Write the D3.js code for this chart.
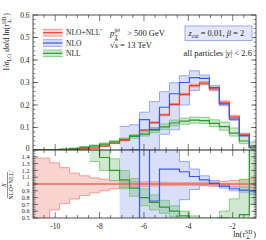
<!DOCTYPE html>
<html>
<head>
<meta charset="utf-8">
<script src="https://cdn.jsdelivr.net/npm/d3@7"></script>
<style>
  body { margin: 0; background: #fff; }
  svg { font-family: "Liberation Serif", "DejaVu Serif", serif; }
</style>
</head>
<body>
<svg id="chart" width="266" height="240"></svg>
<script>
// bin edges in ln(tau)
const binEdges = [-11.15, -10.7, -10.25, -9.8, -9.35, -8.9, -8.45, -8.0, -7.55, -7.1, -6.65, -6.2,
  -5.75, -5.3, -4.85, -4.4, -3.95, -3.5, -3.05, -2.6, -2.15, -1.7, -1.25, -0.8];

// NLO+NLL' (central) and its ratio band
const nloNllp = [0.0005, 0.001, 0.0015, 0.002, 0.003, 0.005, 0.009, 0.017, 0.03, 0.044, 0.063, 0.088,
  0.122, 0.156, 0.203, 0.247, 0.286, 0.297, 0.272, 0.21, 0.147, 0.07, 0.012];
const nloNllpRatioLo = [0.3, 0.3, 0.62, 0.71, 0.78, 0.83, 0.87, 0.9, 0.93, 0.95, 0.96, 0.965,
  0.97, 0.975, 0.975, 0.98, 0.98, 0.975, 0.97, 0.965, 0.96, 0.95, 0.94];
const nloNllpRatioHi = [1.38, 1.38, 1.31, 1.24, 1.16, 1.12, 1.09, 1.07, 1.05, 1.04, 1.035, 1.03,
  1.03, 1.025, 1.02, 1.02, 1.02, 1.025, 1.03, 1.04, 1.05, 1.065, 1.08];

// NLO
const nlo = [null, null, null, null, null, null, null, null, null, null, 0, 0.135,
  0.092, 0.19, 0.25, 0.3, 0.322, 0.318, 0.277, 0.205, 0.137, 0.064, 0.01];
const nloLo = [null, null, null, null, null, null, null, null, null, 0, 0, 0,
  0, 0.07, 0.09, 0.2, 0.265, 0.292, 0.266, 0.197, 0.132, 0.061, 0.009];
const nloHi = [null, null, null, null, null, null, null, null, null, 0.105, 0.112, 0.168,
  0.215, 0.259, 0.299, 0.33, 0.352, 0.333, 0.287, 0.214, 0.143, 0.07, 0.013];
const nloRatio = [null, null, null, null, null, null, null, null, null, null, 0, 1.55,
  0.75, 1.22, 1.22, 1.18, 1.11, 1.06, 1.01, 0.97, 0.93, 0.91, 0.9];
const nloRatioLo = [null, null, null, null, null, null, null, null, null, 0, 0, 0,
  0, 0, 0, 0.77, 0.92, 0.98, 0.97, 0.94, 0.9, 0.88, 0.85];
const nloRatioHi = [null, null, null, null, null, null, null, null, null, 3, 3, 3,
  3, 3, 3, 1.33, 1.22, 1.12, 1.05, 1.0, 0.96, 0.95, 0.95];

// NLL
const nll = [0, 0.001, 0.002, 0.004, 0.007, 0.012, 0.018, 0.026, 0.036, 0.047, 0.06, 0.071,
  0.088, 0.103, 0.12, 0.128, 0.133, 0.131, 0.118, 0.104, 0.075, 0.04, 0.018];
const nllLo = [null, null, null, null, null, 0.009, 0.014, 0.021, 0.031, 0.041, 0.052, 0.062,
  0.077, 0.091, 0.107, 0.115, 0.12, 0.118, 0.104, 0.088, 0.062, 0.028, 0.008];
const nllHi = [null, null, null, null, null, 0.015, 0.022, 0.031, 0.041, 0.053, 0.068, 0.081,
  0.1, 0.116, 0.133, 0.141, 0.146, 0.145, 0.134, 0.124, 0.098, 0.063, 0.035];
const nllRatio = [null, null, null, null, null, null, 1.9, 1.39, 1.2, 1.06, 0.94, 0.8,
  0.73, 0.66, 0.6, 0.53, 0.48, 0.45, 0.44, 0.5, 0.49, 0.55, 1.7];
const nllRatioLo = [null, null, null, null, null, null, 1.33, 1.2, 1.05, 0.93, 0.82, 0.68,
  0.62, 0.57, 0.52, 0.47, 0.44, 0.41, 0.4, 0.42, 0.42, 0.42, 0.7];
const nllRatioHi = [null, null, null, null, null, null, 2, 1.8, 1.37, 1.2, 1.08, 0.93,
  0.84, 0.76, 0.68, 0.6, 0.53, 0.5, 0.5, 0.6, 0.78, 1.07, 2.5];

const mainTicks = [0, 0.1, 0.2, 0.3, 0.4, 0.5, 0.6];
const mainTickLabels = ['0', '0.1', '0.2', '0.3', '0.4', '0.5', '0.6'];
const ratioTicks = [0.5, 0.6, 0.7, 0.8, 0.9, 1, 1.1, 1.2, 1.3, 1.4];
const ratioTickLabels = ['0.5', '0.6', '0.7', '0.8', '0.9', '1', '1.1', '1.2', '1.3', '1.4'];
const xTicks = [-10, -8, -6, -4, -2];
const xTickLabels = ['-10', '-8', '-6', '-4', '-2'];

const colors = {
  red: { line: '#e8402a', edge: '#f0928a', fill: 'rgba(238,120,110,0.32)' },
  blue: { line: '#3a5ae6', edge: '#8ea2ef', fill: 'rgba(130,150,232,0.3)' },
  green: { line: '#2e982e', edge: '#7cc87c', fill: 'rgba(110,185,110,0.33)' }
};

const svg = d3.select('#chart');
const L = 33, R = 256, mainTop = 15, mid = 150, bottom = 218;

const x = d3.scaleLinear().domain([-11, -0.95]).range([L, R]);
const yMain = d3.scaleLinear().domain([0, 0.6]).range([mid, mainTop]);
const yRatio = d3.scaleLinear().domain([0.5, 1.5]).range([bottom, mid]);

const defs = svg.append('defs');
defs.append('clipPath').attr('id', 'clipMain')
  .append('rect').attr('x', L).attr('y', mainTop).attr('width', R - L).attr('height', mid - mainTop);
defs.append('clipPath').attr('id', 'clipRatio')
  .append('rect').attr('x', L).attr('y', mid).attr('width', R - L).attr('height', bottom - mid);

function steps(vals) {
  const pts = vals.map((v, i) => ({ x: binEdges[i], v }));
  pts.push({ x: binEdges[vals.length], v: vals[vals.length - 1] });
  return pts;
}
function bandSteps(lo, hi) {
  const pts = lo.map((v, i) => ({ x: binEdges[i], lo: v, hi: hi[i] }));
  pts.push({ x: binEdges[lo.length], lo: lo[lo.length - 1], hi: hi[hi.length - 1] });
  return pts;
}

function drawBand(g, y, lo, hi, c) {
  const pts = bandSteps(lo, hi);
  const area = d3.area().defined(d => d.lo != null)
    .x(d => x(d.x)).y0(d => y(d.lo)).y1(d => y(d.hi)).curve(d3.curveStepAfter);
  g.append('path').attr('d', area(pts)).attr('fill', c.fill).attr('stroke', 'none');
}
function drawEdges(g, y, lo, hi, c) {
  [lo, hi].forEach(vals => {
    const line = d3.line().defined(d => d.v != null)
      .x(d => x(d.x)).y(d => y(d.v)).curve(d3.curveStepAfter);
    g.append('path').attr('d', line(steps(vals))).attr('fill', 'none')
      .attr('stroke', c.edge).attr('stroke-width', 0.9);
  });
}
function drawLine(g, y, vals, color, w) {
  const line = d3.line().defined(d => d.v != null)
    .x(d => x(d.x)).y(d => y(d.v)).curve(d3.curveStepAfter);
  g.append('path').attr('d', line(steps(vals))).attr('fill', 'none')
    .attr('stroke', color).attr('stroke-width', w);
}

// main panel
const nloNllpLo = nloNllp.map((v, i) => v * nloNllpRatioLo[i]);
const nloNllpHi = nloNllp.map((v, i) => v * nloNllpRatioHi[i]);

const gMain = svg.append('g').attr('clip-path', 'url(#clipMain)');
drawBand(gMain, yMain, nloLo, nloHi, colors.blue);
drawBand(gMain, yMain, nloNllpLo, nloNllpHi, colors.red);
drawBand(gMain, yMain, nllLo, nllHi, colors.green);
drawEdges(gMain, yMain, nloLo, nloHi, colors.blue);
drawEdges(gMain, yMain, nloNllpLo, nloNllpHi, colors.red);
drawEdges(gMain, yMain, nllLo, nllHi, colors.green);
drawLine(gMain, yMain, nloNllp, colors.red.line, 1.2);
drawLine(gMain, yMain, nll, colors.green.line, 1.2);
drawLine(gMain, yMain, nlo, colors.blue.line, 1.2);

// ratio panel
const ones = nloNllp.map(() => 1);
const gRatio = svg.append('g').attr('clip-path', 'url(#clipRatio)');
drawBand(gRatio, yRatio, nloRatioLo, nloRatioHi, colors.blue);
drawBand(gRatio, yRatio, nloNllpRatioLo, nloNllpRatioHi, colors.red);
drawBand(gRatio, yRatio, nllRatioLo, nllRatioHi, colors.green);
drawEdges(gRatio, yRatio, nloRatioLo, nloRatioHi, colors.blue);
drawEdges(gRatio, yRatio, nloNllpRatioLo, nloNllpRatioHi, colors.red);
drawEdges(gRatio, yRatio, nllRatioLo, nllRatioHi, colors.green);
drawLine(gRatio, yRatio, ones, '#ea6a5a', 1.5);
drawLine(gRatio, yRatio, nllRatio, colors.green.line, 1.2);
drawLine(gRatio, yRatio, nloRatio, colors.blue.line, 1.2);

// frames and ticks
const axes = svg.append('g').attr('stroke', '#222').attr('fill', 'none');
axes.append('rect').attr('x', L).attr('y', mainTop).attr('width', R - L).attr('height', bottom - mainTop)
  .attr('stroke-width', 0.8);
axes.append('line').attr('x1', L).attr('x2', R).attr('y1', mid).attr('y2', mid).attr('stroke-width', 1.2);

function xTickMarks(yEdge, dir) {
  d3.range(-10.5, -1, 0.5).forEach(v => {
    const major = Math.abs(v % 2) < 1e-6;
    const len = major ? 6 : 3;
    axes.append('line').attr('x1', x(v)).attr('x2', x(v))
      .attr('y1', yEdge).attr('y2', yEdge + dir * len).attr('stroke-width', 0.6);
  });
}
xTickMarks(mainTop, 1);
xTickMarks(mid, -1);
xTickMarks(mid, 1);
xTickMarks(bottom, -1);

function yTickMarks(scale, majors, minors) {
  minors.forEach(v => {
    [[L, 1], [R, -1]].forEach(([x0, dir]) => {
      axes.append('line').attr('x1', x0).attr('x2', x0 + dir * 2.5)
        .attr('y1', scale(v)).attr('y2', scale(v)).attr('stroke-width', 0.5);
    });
  });
  majors.forEach(v => {
    [[L, 1], [R, -1]].forEach(([x0, dir]) => {
      axes.append('line').attr('x1', x0).attr('x2', x0 + dir * 5)
        .attr('y1', scale(v)).attr('y2', scale(v)).attr('stroke-width', 0.6);
    });
  });
}
yTickMarks(yMain, mainTicks, d3.range(0.02, 0.6, 0.02));
yTickMarks(yRatio, ratioTicks, d3.range(0.525, 1.5, 0.025));

const labels = svg.append('g').attr('fill', '#222').attr('font-size', 7.5);
mainTicks.forEach((v, i) => {
  labels.append('text').attr('x', L - 3.5).attr('y', yMain(v) + (v === 0 ? 1 : 2.6))
    .attr('text-anchor', 'end').text(mainTickLabels[i]);
});
ratioTicks.forEach((v, i) => {
  labels.append('text').attr('x', L - 3.5).attr('y', yRatio(v) + 2.2).attr('text-anchor', 'end')
    .attr('font-size', 6.2).text(ratioTickLabels[i]);
});
xTicks.forEach((v, i) => {
  labels.append('text').attr('x', x(v)).attr('y', 229).attr('text-anchor', 'middle')
    .text(xTickLabels[i]);
});

// axis titles
const yTitle = labels.append('text').attr('transform', 'translate(9,13) rotate(-90)')
  .attr('text-anchor', 'end').attr('font-size', 8);
yTitle.append('tspan').text('1/');
yTitle.append('tspan').attr('font-style', 'italic').text('σ');
yTitle.append('tspan').attr('font-size', 5.5).attr('dy', 1.8).text('LO');
yTitle.append('tspan').attr('dy', -1.8).attr('font-style', 'italic').text(' dσ');
yTitle.append('tspan').text('/d ln(');
yTitle.append('tspan').attr('font-style', 'italic').text('τ');
yTitle.append('tspan').attr('font-size', 5.5).attr('dy', -3).text('SD');
yTitle.append('tspan').attr('font-size', 5.5).attr('dx', -7).attr('dy', 5).text('⊥');
yTitle.append('tspan').attr('dx', 3).attr('dy', -2).text(')');

const rTitle = labels.append('g').attr('transform', 'translate(9,185) rotate(-90)').attr('font-size', 6.2);
rTitle.append('text').attr('x', 0).attr('y', -3).attr('text-anchor', 'middle').attr('font-style', 'italic').text('X');
rTitle.append('line').attr('x1', -13).attr('x2', 13).attr('y1', -1.5).attr('y2', -1.5)
  .attr('stroke', '#222').attr('stroke-width', 0.5);
rTitle.append('text').attr('x', 0).attr('y', 4.3).attr('text-anchor', 'middle').text('NLO+NLL′');

const xTitle = labels.append('text').attr('x', R).attr('y', 237).attr('text-anchor', 'end').attr('font-size', 8);
xTitle.append('tspan').text('ln(');
xTitle.append('tspan').attr('font-style', 'italic').text('τ');
xTitle.append('tspan').attr('font-size', 5.5).attr('dy', -3).text('SD');
xTitle.append('tspan').attr('font-size', 5.5).attr('dx', -7).attr('dy', 5).text('⊥');
xTitle.append('tspan').attr('dx', 3).attr('dy', -2).text(')');

// legend
const legendNames = ['NLO+NLL′', 'NLO', 'NLL'];
const legendColors = [colors.red, colors.blue, colors.green];
legendNames.forEach((name, i) => {
  const cy = 32.7 + i * 10.3;
  const c = legendColors[i];
  labels.append('rect').attr('x', 43).attr('y', cy - 3.3).attr('width', 19.5).attr('height', 6.6)
    .attr('fill', c.fill);
  [-3.3, 3.3].forEach(dy => {
    labels.append('line').attr('x1', 43).attr('x2', 62.5).attr('y1', cy + dy).attr('y2', cy + dy)
      .attr('stroke', c.edge).attr('stroke-width', 0.9);
  });
  labels.append('line').attr('x1', 43).attr('x2', 62.5).attr('y1', cy).attr('y2', cy)
    .attr('stroke', c.line).attr('stroke-width', 1.2);
  labels.append('text').attr('x', 66).attr('y', cy + 2.6).attr('font-size', 7.5).text(name);
});

// annotations
const pt = labels.append('g').attr('font-size', 8.5);
pt.append('text').attr('x', 110).attr('y', 36).attr('font-style', 'italic').text('p');
pt.append('text').attr('x', 114.5).attr('y', 31.5).attr('font-size', 5.5).text('jet');
pt.append('text').attr('x', 114.5).attr('y', 38.5).attr('font-size', 5.5).text('T');
pt.append('text').attr('x', 127).attr('y', 36).text('> 500 GeV');
const rs = labels.append('text').attr('x', 110).attr('y', 47.5).attr('font-size', 8.5);
rs.append('tspan').text('√');
rs.append('tspan').attr('font-style', 'italic').attr('text-decoration', 'overline').text('s');
rs.append('tspan').text(' = 13 TeV');

labels.append('rect').attr('x', 185).attr('y', 26).attr('width', 67).attr('height', 14.5)
  .attr('fill', '#e3e7fb').attr('stroke', '#93a4ee').attr('stroke-width', 0.9);
const zc = labels.append('text').attr('x', 188.5).attr('y', 36).attr('font-size', 8.5);
zc.append('tspan').attr('font-style', 'italic').text('z');
zc.append('tspan').attr('font-size', 5.5).attr('dy', 1.8).text('cut');
zc.append('tspan').attr('dy', -1.8).text(' = 0.01, ');
zc.append('tspan').attr('font-style', 'italic').text('β');
zc.append('tspan').text(' = 2');

const ap = labels.append('text').attr('x', 252).attr('y', 56).attr('text-anchor', 'end').attr('font-size', 8.5);
ap.append('tspan').text('all particles |');
ap.append('tspan').attr('font-style', 'italic').text('y');
ap.append('tspan').text('| < 2.6');
</script>
</body>
</html>
